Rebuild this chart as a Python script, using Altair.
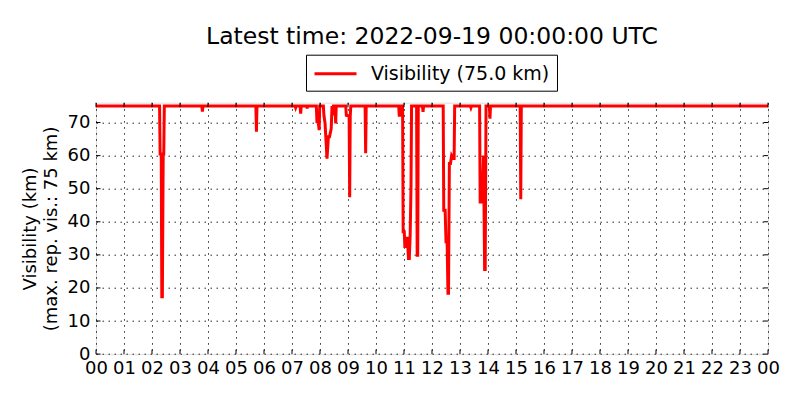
import altair as alt
import pandas as pd

# Time of each observation, in hours since 00 UTC
hours = [
    0.00,
    2.27, 2.29, 2.33, 2.35, 2.37, 2.40, 2.42, 2.44,
    3.78, 3.80, 3.82,
    5.71, 5.73, 5.75,
    7.11, 7.13, 7.15,
    7.29, 7.31, 7.33,
    7.52, 7.54, 7.56,
    7.87, 7.89, 7.94, 7.97, 7.99,
    8.12, 8.14, 8.18, 8.25, 8.30, 8.34, 8.40, 8.43, 8.46, 8.48,
    8.54, 8.56, 8.58,
    8.92, 8.94, 9.04, 9.06, 9.08, 9.10,
    9.61, 9.63, 9.65,
    10.81, 10.83, 10.87, 10.89,
    10.95, 10.97, 11.01, 11.03, 11.05, 11.08, 11.12, 11.16, 11.19, 11.22, 11.25, 11.27,
    11.45, 11.47, 11.49, 11.51,
    11.66, 11.68, 11.70,
    12.40, 12.42, 12.47, 12.50, 12.54, 12.57, 12.59, 12.62, 12.66, 12.70, 12.76, 12.79, 12.81,
    13.37, 13.39, 13.41,
    13.70, 13.72, 13.79, 13.84, 13.88, 13.90, 13.93,
    14.05, 14.07, 14.09,
    15.15, 15.17, 15.19,
    24.00,
]
# Visibility (km) at those times
visibility = [
    75.0,
    75.0, 60.5, 60.5, 17.3, 17.3, 60.5, 60.5, 75.0,
    75.0, 73.3, 75.0,
    75.0, 67.2, 75.0,
    75.0, 74.5, 75.0,
    75.0, 72.7, 75.0,
    75.0, 74.3, 75.0,
    75.0, 70.2, 70.0, 67.7, 75.0,
    75.0, 72.2, 69.8, 59.1, 65.7, 65.7, 68.2, 75.0, 72.2, 75.0,
    75.0, 69.7, 75.0,
    75.0, 72.2, 72.0, 47.4, 72.0, 75.0,
    75.0, 60.7, 75.0,
    75.0, 72.2, 72.2, 75.0,
    75.0, 37.0, 37.0, 32.5, 32.5, 35.0, 35.0, 28.9, 28.9, 36.0, 50.6, 75.0,
    75.0, 29.9, 29.9, 75.0,
    75.0, 73.2, 75.0,
    75.0, 43.5, 43.5, 34.0, 34.0, 18.4, 18.4, 57.6, 57.6, 60.0, 59.1, 59.1, 75.0,
    75.0, 74.5, 75.0,
    75.0, 46.0, 46.0, 60.0, 25.6, 25.6, 75.0,
    75.0, 71.2, 75.0,
    75.0, 46.8, 75.0,
    75.0,
]
series_name = "Visibility (75.0 km)"
x_ticks = list(range(0, 25))
y_ticks = [0, 10, 20, 30, 40, 50, 60, 70]

FONT = "DejaVu Sans"
X_MAX = 24
Y_MAX = 76
TICK_Y = 1.36   # inward tick length in y units
TICK_X = 0.16   # inward tick length in x units

df = pd.DataFrame({"hour": hours, "vis": visibility, "series": series_name})

xscale = alt.Scale(domain=[0, X_MAX], nice=False, zero=False)
yscale = alt.Scale(domain=[0, Y_MAX], nice=False)

xaxis = alt.Axis(
    values=x_ticks,
    tickCount=len(x_ticks) + 5,
    labelExpr="(datum.value % 24 < 10 ? '0' : '') + (datum.value % 24)",
    labelFontSize=18,
    labelFont=FONT,
    labelColor="black",
    labelPadding=5,
    labelOverlap=False,
    labelFlush=False,
    labelBound=False,
    ticks=False,
    domain=False,
    grid=True,
    gridColor="black",
    gridDash=[1.5, 4.5],
    gridWidth=1,
    gridOpacity=0.85,
    title=None,
)
yaxis = alt.Axis(
    values=y_ticks,
    tickCount=len(y_ticks) + 5,
    labelFontSize=18,
    labelFont=FONT,
    labelColor="black",
    labelPadding=6,
    labelOverlap=False,
    labelFlush=False,
    labelBound=False,
    ticks=False,
    domain=False,
    grid=True,
    gridColor="black",
    gridDash=[1.5, 4.5],
    gridWidth=1,
    gridOpacity=0.85,
    title=["Visibility (km)", "(max. rep. vis.: 75 km)"],
    titleFont=FONT,
    titleFontSize=18,
    titleFontWeight="normal",
    titleColor="black",
    titleLineHeight=21,
    titlePadding=7,
)

line = alt.Chart(df).mark_line(strokeWidth=3, clip=True).encode(
    x=alt.X("hour:Q", scale=xscale, axis=xaxis),
    y=alt.Y("vis:Q", scale=yscale, axis=yaxis),
    color=alt.Color(
        "series:N",
        scale=alt.Scale(domain=[series_name], range=["#ff0000"]),
        legend=alt.Legend(
            title=None,
            orient="none",
            legendX=210,
            legendY=-48,
            strokeColor="black",
            fillColor="white",
            padding=7,
            cornerRadius=0,
            symbolType="M-1,0H3",
            symbolStrokeWidth=3,
            symbolSize=441,
            labelFontSize=19,
            labelFont=FONT,
            labelColor="black",
            labelLimit=0,
            labelOffset=34,
        ),
    ),
)

xt = pd.DataFrame({"x": x_ticks})
yt = pd.DataFrame({"y": y_ticks})

bottom_ticks = alt.Chart(xt).mark_rule(color="black", strokeWidth=1).encode(
    x=alt.X("x:Q", scale=xscale, axis=xaxis), y=alt.datum(0), y2=alt.datum(TICK_Y)
)
top_ticks = alt.Chart(xt).mark_rule(color="black", strokeWidth=1).encode(
    x=alt.X("x:Q", scale=xscale, axis=xaxis), y=alt.datum(Y_MAX - TICK_Y), y2=alt.datum(Y_MAX)
)
left_ticks = alt.Chart(yt).mark_rule(color="black", strokeWidth=1).encode(
    y=alt.Y("y:Q", scale=yscale, axis=yaxis), x=alt.datum(0), x2=alt.datum(TICK_X)
)
right_ticks = alt.Chart(yt).mark_rule(color="black", strokeWidth=1).encode(
    y=alt.Y("y:Q", scale=yscale, axis=yaxis), x=alt.datum(X_MAX - TICK_X), x2=alt.datum(X_MAX)
)

chart = (
    alt.layer(line, bottom_ticks, top_ticks, left_ticks, right_ticks)
    .properties(
        width=672,
        height=251.4,
        autosize=alt.AutoSizeParams(type="none"),
        padding={"left": 88, "top": 94.7, "right": 24, "bottom": 30},
        title=alt.TitleParams(
            text="Latest time: 2022-09-19 00:00:00 UTC",
            font=FONT,
            fontSize=23.5,
            fontWeight="normal",
            color="black",
            anchor="middle",
            frame="group",
            baseline="alphabetic",
            offset=-13,
        ),
    )
    .configure_view(stroke="black", strokeWidth=1.5)
    .configure(background="white")
)

chart.save("out.html", embed_options={"renderer": "svg", "actions": False})
